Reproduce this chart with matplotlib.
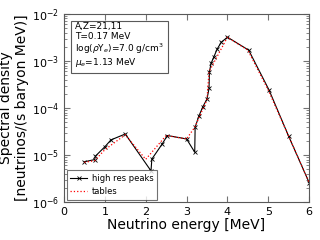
import numpy as np
import matplotlib
matplotlib.use("Agg")
import matplotlib.pyplot as plt

# high resolution peaks
hr_e = [0.5, 0.75, 0.77, 1.0, 1.15, 1.5, 2.13, 2.15, 2.4, 2.53, 3.0, 3.2, 3.21,
        3.3, 3.4, 3.5, 3.55, 3.56, 3.6, 3.67, 3.75, 3.85, 4.0, 4.52, 5.02, 5.5, 6.0]
hr_s = [7.2e-6, 8.0e-6, 9.5e-6, 1.5e-5, 2.1e-5, 2.8e-5, 4.6e-6, 8.2e-6, 1.7e-5,
        2.6e-5, 2.2e-5, 1.15e-5, 3.9e-5, 6.7e-5, 1.07e-4, 1.55e-4, 2.6e-4, 5.9e-4,
        8.9e-4, 1.23e-3, 1.8e-3, 2.5e-3, 3.2e-3, 1.7e-3, 2.4e-4, 2.5e-5, 2.6e-6]

# tables
tb_e = [0.5, 0.75, 1.0, 1.5, 2.0, 2.5, 3.0, 3.2, 3.5, 3.55, 4.0, 4.5, 5.0, 5.5, 6.0]
tb_s = [7.0e-6, 7.6e-6, 1.3e-5, 2.7e-5, 8.1e-6, 2.6e-5, 2.2e-5, 3.9e-5, 1.5e-4,
        5.9e-4, 3.2e-3, 1.7e-3, 2.4e-4, 2.5e-5, 2.6e-6]

info = ["A,Z=21,11", "T=0.17 MeV", r"log($\rho$Y$_e$)=7.0 g/cm$^3$", r"$\mu_e$=1.13 MeV"]

fig = plt.figure(figsize=(3.2, 2.4), dpi=100)
ax = fig.add_axes([0.2, 0.158, 0.766, 0.784])

ax.plot(hr_e, hr_s, color="black", lw=0.8, marker="x", ms=3, mew=0.6,
        label="high res peaks")
ax.plot(tb_e, tb_s, color="red", lw=0.9, ls=":", label="tables")

ax.set_yscale("log")
ax.set_xlim(0, 6)
ax.set_ylim(1e-6, 1e-2)
for sp in ax.spines.values():
    sp.set_color("0.35")
ax.tick_params(which="both", direction="in", top=True, right=True, labelsize=8,
               color="0.45")
ax.tick_params(which="major", length=4)
ax.tick_params(which="minor", length=2)
ax.set_xlabel("Neutrino energy [MeV]", fontsize=10, labelpad=1)
ax.set_ylabel("Spectral density\n[neutrinos/(s baryon MeV)]", fontsize=10,
              labelpad=2)

ax.text(0.045, 0.955, "\n".join(info), transform=ax.transAxes, fontsize=6.5,
        va="top", ha="left", linespacing=1.05,
        bbox=dict(boxstyle="square,pad=0.4", fc="white", ec="0.35", lw=0.8))

leg = ax.legend(loc="lower left", fontsize=6, frameon=True, fancybox=False,
                borderaxespad=0.3, handlelength=2.0, borderpad=0.45,
                labelspacing=0.45, handletextpad=0.6)
leg.get_frame().set_edgecolor("0.3")
leg.get_frame().set_linewidth(0.8)

fig.savefig("out.png", dpi=100)
